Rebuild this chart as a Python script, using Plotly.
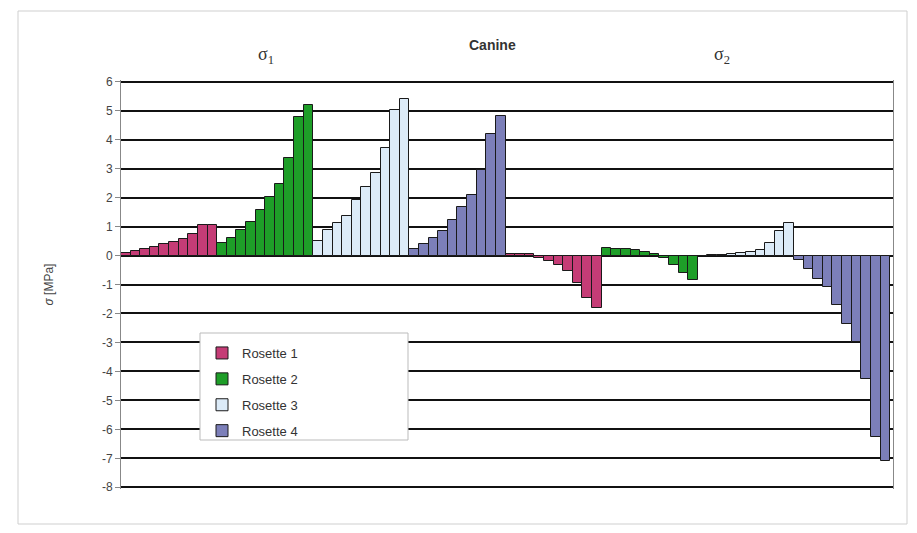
import plotly.graph_objects as go

# Principal stresses (MPa) per strain-gauge rosette, 10 load steps each
rosettes = ["Rosette 1", "Rosette 2", "Rosette 3", "Rosette 4"]
colors = ["#C53C76", "#1E9E28", "#DCEBF8", "#7C7FB9"]

r1_s1 = [0.1, 0.17, 0.24, 0.31, 0.39, 0.48, 0.58, 0.75, 1.05, 1.05]
r2_s1 = [0.45, 0.62, 0.88, 1.17, 1.57, 2.03, 2.46, 3.36, 4.8, 5.18]
r3_s1 = [0.5, 0.88, 1.12, 1.38, 1.93, 2.38, 2.85, 3.72, 5.02, 5.4]
r4_s1 = [0.24, 0.4, 0.62, 0.86, 1.23, 1.69, 2.08, 2.95, 4.18, 4.82]

r1_s2 = [0.05, 0.07, 0.04, -0.08, -0.18, -0.32, -0.52, -0.95, -1.45, -1.82]
r2_s2 = [0.25, 0.23, 0.21, 0.18, 0.12, 0.05, -0.1, -0.32, -0.6, -0.85]
r3_s2 = [0.0, 0.02, 0.03, 0.05, 0.08, 0.12, 0.2, 0.45, 0.85, 1.12]
r4_s2 = [-0.15, -0.45, -0.8, -1.1, -1.7, -2.35, -3.0, -4.27, -6.25, -7.1]

sigma1 = [r1_s1, r2_s1, r3_s1, r4_s1]
sigma2 = [r1_s2, r2_s2, r3_s2, r4_s2]
y_ticks = list(range(-8, 7))

n = len(r1_s1)
fig = go.Figure()
for k, name in enumerate(rosettes):
    # σ1 groups occupy slots 0-3, σ2 groups slots 4-7
    xs = [k * n + i for i in range(n)] + [(4 + k) * n + i for i in range(n)]
    ys = sigma1[k] + sigma2[k]
    fig.add_trace(go.Bar(
        x=xs, y=ys, name=name, legendgroup=name,
        marker=dict(color=colors[k], line=dict(color="#1a1a1a", width=1)),
    ))

L, R, T, B = 121, 24, 80, 44
W, H = 917, 533
pw, ph = W - L - R, H - T - B

def px(x):
    return (x - L) / pw

def py(y):
    return (H - B - y) / ph

fig.update_layout(
    width=W, height=H,
    margin=dict(l=L, r=R, t=T, b=B),
    paper_bgcolor="white", plot_bgcolor="white",
    bargap=0, barmode="overlay",
    showlegend=True,
    legend=dict(
        x=px(202), y=py(338), xanchor="left", yanchor="top",
        bgcolor="rgba(0,0,0,0)", borderwidth=0,
        font=dict(family="Liberation Sans", size=13, color="#333"),
        tracegroupgap=6, itemwidth=30,
    ),
    xaxis=dict(
        range=[-0.5, 8 * n - 0.2], showticklabels=False, showgrid=False,
        zeroline=False, showline=False, ticks="",
    ),
    yaxis=dict(
        range=[-8.06, 6.06], tickvals=y_ticks, ticktext=[str(v) for v in y_ticks],
        showgrid=True, gridcolor="#111", gridwidth=2,
        zeroline=True, zerolinecolor="#111", zerolinewidth=2,
        showline=True, linecolor="#888", linewidth=1, mirror=True,
        ticks="outside", ticklen=5, tickcolor="#888",
        tickfont=dict(family="Liberation Sans", size=12, color="#444"),
        title=dict(text="<i>σ</i> [MPa]", standoff=45,
                   font=dict(family="Liberation Sans", size=12, color="#444")),
    ),
    shapes=[
        # outer frame
        dict(type="rect", xref="paper", yref="paper",
             x0=px(18), x1=px(907), y0=py(524), y1=py(11),
             line=dict(color="#cfcfcf", width=1), fillcolor="rgba(0,0,0,0)",
             layer="below"),
        # legend box
        dict(type="rect", xref="paper", yref="paper",
             x0=px(200), x1=px(408), y0=py(440), y1=py(333),
             line=dict(color="#bbbbbb", width=1), fillcolor="white",
             layer="above"),
    ],
    annotations=[
        dict(text="σ<sub>1</sub>", x=px(266), y=py(55), xref="paper", yref="paper",
             xanchor="center", yanchor="middle", showarrow=False,
             font=dict(family="Liberation Serif", size=18, color="#333")),
        dict(text="<b>Canine</b>", x=px(492), y=py(45), xref="paper", yref="paper",
             xanchor="center", yanchor="middle", showarrow=False,
             font=dict(family="Liberation Sans", size=14, color="#333")),
        dict(text="σ<sub>2</sub>", x=px(722), y=py(55), xref="paper", yref="paper",
             xanchor="center", yanchor="middle", showarrow=False,
             font=dict(family="Liberation Serif", size=18, color="#333")),
    ],
)

fig.write_html("out.html")
